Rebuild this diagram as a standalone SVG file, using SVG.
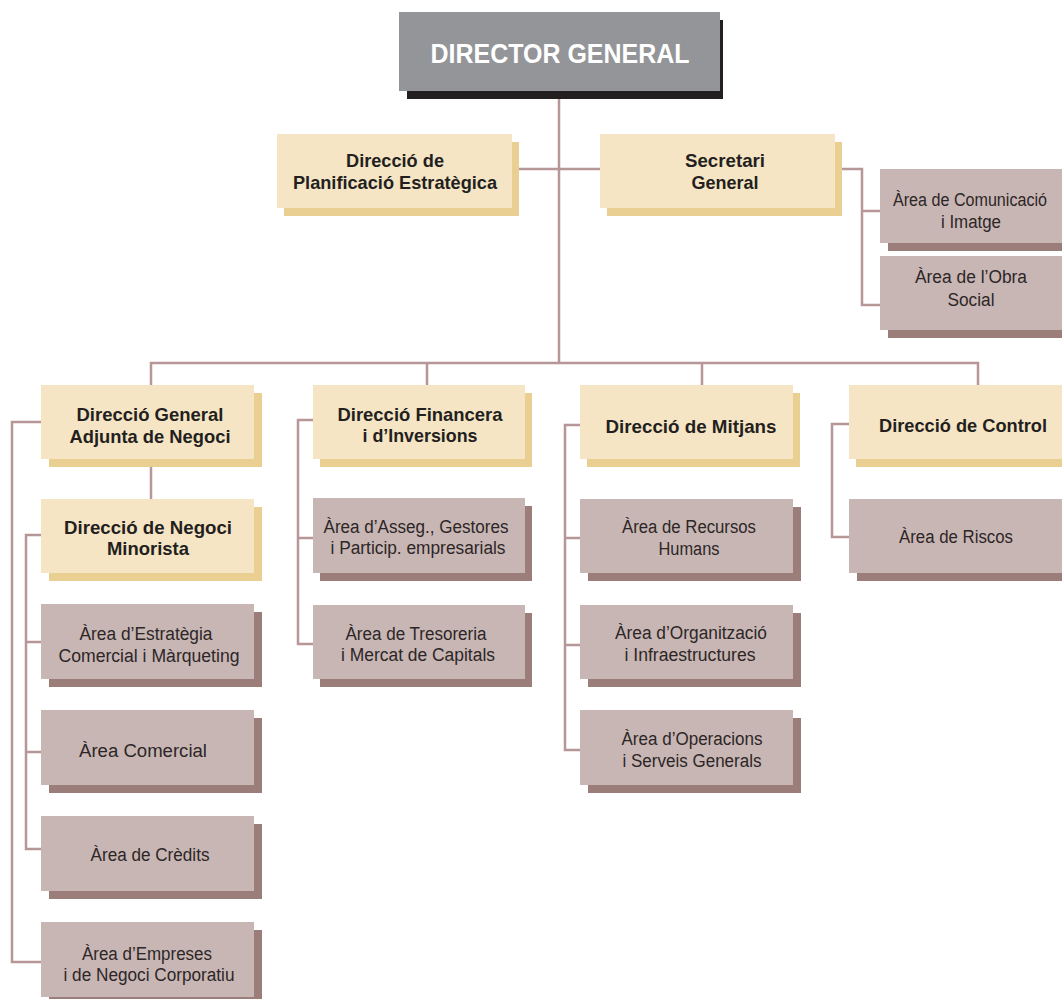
<svg xmlns="http://www.w3.org/2000/svg" width="1062" height="999" viewBox="0 0 1062 999">
<style>
.bg{fill:#ffffff}
.bx{fill:#f5e5c4}
.bxs{fill:#e9cf92}
.ar{fill:#c8b6b4}
.ars{fill:#9b7d79}
.dg{fill:#939598}
.dgs{fill:#231f20}
.ln{fill:none;stroke:#b69696;stroke-width:2.5}
.b{font-family:"Liberation Sans Narrow","Liberation Sans",Arial,sans-serif;font-weight:bold;font-size:18.5px;fill:#231f20;text-anchor:middle}
.t{font-family:"Liberation Sans Narrow","Liberation Sans",Arial,sans-serif;font-size:18px;fill:#2d2627;text-anchor:middle}
.h{font-family:"Liberation Sans Narrow","Liberation Sans",Arial,sans-serif;font-weight:bold;font-size:27px;fill:#ffffff;text-anchor:middle}
</style>
<rect class="bg" x="0" y="0" width="1062" height="999"/>
<g id="connectors">
<path class="ln" d="M559,92 V363"/>
<path class="ln" d="M512,169 H600"/>
<path class="ln" d="M835,169 H862 V305 H880 M862,211 H880"/>
<path class="ln" d="M151,385 V363 H978 V385 M427,363 V385 M702,363 V385"/>
<path class="ln" d="M151,459 V499"/>
<path class="ln" d="M41,422 H12 V962 H41"/>
<path class="ln" d="M41,535 H26 V849 H41 M26,642 H41 M26,752 H41"/>
<path class="ln" d="M313,420 H298 V644 H313 M298,538 H313"/>
<path class="ln" d="M580,425 H565 V750 H580 M565,538 H580 M565,645 H580"/>
<path class="ln" d="M849,424 H832 V537 H849"/>
</g>
<g id="director-general">
<rect class="dgs" x="407" y="20" width="316" height="79"/>
<rect class="dg" x="399" y="12" width="321" height="79"/>
<text class="h" x="560" y="63" textLength="259" lengthAdjust="spacingAndGlyphs">DIRECTOR GENERAL</text>
</g>
<g id="planificacio">
<rect class="bxs" x="284" y="142" width="235" height="74"/>
<rect class="bx" x="277" y="134" width="235" height="74"/>
<text class="b" x="395" y="167" textLength="98" lengthAdjust="spacingAndGlyphs">Direcció de</text>
<text class="b" x="395" y="189" textLength="204" lengthAdjust="spacingAndGlyphs">Planificació Estratègica</text>
</g>
<g id="secretari">
<rect class="bxs" x="607" y="142" width="235" height="74"/>
<rect class="bx" x="600" y="134" width="235" height="74"/>
<text class="b" x="725" y="167" textLength="80" lengthAdjust="spacingAndGlyphs">Secretari</text>
<text class="b" x="725" y="189" textLength="67" lengthAdjust="spacingAndGlyphs">General</text>
</g>
<g id="comunicacio">
<rect class="ars" x="888" y="177" width="174" height="74"/>
<rect class="ar" x="880" y="169" width="182" height="74"/>
<text class="t" x="970" y="206" font-size="17" textLength="154" lengthAdjust="spacingAndGlyphs">Àrea de Comunicació</text>
<text class="t" x="971" y="228" textLength="60" lengthAdjust="spacingAndGlyphs">i Imatge</text>
</g>
<g id="obra-social">
<rect class="ars" x="888" y="264" width="174" height="74"/>
<rect class="ar" x="880" y="256" width="182" height="74"/>
<text class="t" x="971" y="283" textLength="112" lengthAdjust="spacingAndGlyphs">Àrea de l’Obra</text>
<text class="t" x="971" y="306" textLength="47" lengthAdjust="spacingAndGlyphs">Social</text>
</g>
<g id="adjunta-negoci">
<rect class="bxs" x="49" y="393" width="213" height="74"/>
<rect class="bx" x="41" y="385" width="213" height="74"/>
<text class="b" x="150" y="421" textLength="147" lengthAdjust="spacingAndGlyphs">Direcció General</text>
<text class="b" x="150" y="443" textLength="161" lengthAdjust="spacingAndGlyphs">Adjunta de Negoci</text>
</g>
<g id="negoci-minorista">
<rect class="bxs" x="49" y="507" width="213" height="74"/>
<rect class="bx" x="41" y="499" width="213" height="74"/>
<text class="b" x="148" y="534" textLength="168" lengthAdjust="spacingAndGlyphs">Direcció de Negoci</text>
<text class="b" x="148" y="555" textLength="82" lengthAdjust="spacingAndGlyphs">Minorista</text>
</g>
<g id="estrategia-comercial">
<rect class="ars" x="49" y="612" width="213" height="75"/>
<rect class="ar" x="41" y="604" width="213" height="75"/>
<text class="t" x="146" y="640" textLength="133" lengthAdjust="spacingAndGlyphs">Àrea d’Estratègia</text>
<text class="t" x="149" y="662" textLength="181" lengthAdjust="spacingAndGlyphs">Comercial i Màrqueting</text>
</g>
<g id="area-comercial">
<rect class="ars" x="49" y="718" width="213" height="75"/>
<rect class="ar" x="41" y="710" width="213" height="75"/>
<text class="t" x="143" y="757" textLength="128" lengthAdjust="spacingAndGlyphs">Àrea Comercial</text>
</g>
<g id="area-credits">
<rect class="ars" x="49" y="824" width="213" height="75"/>
<rect class="ar" x="41" y="816" width="213" height="75"/>
<text class="t" x="150" y="861" textLength="119" lengthAdjust="spacingAndGlyphs">Àrea de Crèdits</text>
</g>
<g id="area-empreses">
<rect class="ars" x="49" y="930" width="213" height="75"/>
<rect class="ar" x="41" y="922" width="213" height="75"/>
<text class="t" x="147" y="960" textLength="130" lengthAdjust="spacingAndGlyphs">Àrea d’Empreses</text>
<text class="t" x="149" y="981" textLength="171" lengthAdjust="spacingAndGlyphs">i de Negoci Corporatiu</text>
</g>
<g id="financera">
<rect class="bxs" x="320" y="393" width="212" height="74"/>
<rect class="bx" x="313" y="385" width="212" height="74"/>
<text class="b" x="420" y="421" textLength="165" lengthAdjust="spacingAndGlyphs">Direcció Financera</text>
<text class="b" x="420" y="442" textLength="115" lengthAdjust="spacingAndGlyphs">i d’Inversions</text>
</g>
<g id="asseguradores">
<rect class="ars" x="320" y="506" width="212" height="75"/>
<rect class="ar" x="313" y="498" width="212" height="75"/>
<text class="t" x="416" y="533" textLength="185" lengthAdjust="spacingAndGlyphs">Àrea d’Asseg., Gestores</text>
<text class="t" x="418" y="554" textLength="175" lengthAdjust="spacingAndGlyphs">i Particip. empresarials</text>
</g>
<g id="tresoreria">
<rect class="ars" x="320" y="613" width="212" height="74"/>
<rect class="ar" x="313" y="605" width="212" height="74"/>
<text class="t" x="416" y="640" textLength="141" lengthAdjust="spacingAndGlyphs">Àrea de Tresoreria</text>
<text class="t" x="418" y="661" textLength="154" lengthAdjust="spacingAndGlyphs">i Mercat de Capitals</text>
</g>
<g id="mitjans">
<rect class="bxs" x="587" y="393" width="213" height="74"/>
<rect class="bx" x="580" y="385" width="213" height="74"/>
<text class="b" x="691" y="433" textLength="171" lengthAdjust="spacingAndGlyphs">Direcció de Mitjans</text>
</g>
<g id="recursos-humans">
<rect class="ars" x="588" y="507" width="213" height="74"/>
<rect class="ar" x="580" y="499" width="213" height="74"/>
<text class="t" x="689" y="533" textLength="134" lengthAdjust="spacingAndGlyphs">Àrea de Recursos</text>
<text class="t" x="689" y="555" textLength="61" lengthAdjust="spacingAndGlyphs">Humans</text>
</g>
<g id="organitzacio">
<rect class="ars" x="588" y="613" width="213" height="74"/>
<rect class="ar" x="580" y="605" width="213" height="74"/>
<text class="t" x="691" y="639" textLength="152" lengthAdjust="spacingAndGlyphs">Àrea d’Organització</text>
<text class="t" x="690" y="661" textLength="131" lengthAdjust="spacingAndGlyphs">i Infraestructures</text>
</g>
<g id="operacions">
<rect class="ars" x="588" y="718" width="213" height="75"/>
<rect class="ar" x="580" y="710" width="213" height="75"/>
<text class="t" x="692" y="745" textLength="141" lengthAdjust="spacingAndGlyphs">Àrea d’Operacions</text>
<text class="t" x="692" y="767" textLength="139" lengthAdjust="spacingAndGlyphs">i Serveis Generals</text>
</g>
<g id="control">
<rect class="bxs" x="856" y="393" width="206" height="74"/>
<rect class="bx" x="849" y="385" width="213" height="74"/>
<text class="b" x="963" y="432" textLength="168" lengthAdjust="spacingAndGlyphs">Direcció de Control</text>
</g>
<g id="riscos">
<rect class="ars" x="857" y="507" width="205" height="74"/>
<rect class="ar" x="849" y="499" width="213" height="74"/>
<text class="t" x="956" y="543" textLength="114" lengthAdjust="spacingAndGlyphs">Àrea de Riscos</text>
</g>
</svg>
